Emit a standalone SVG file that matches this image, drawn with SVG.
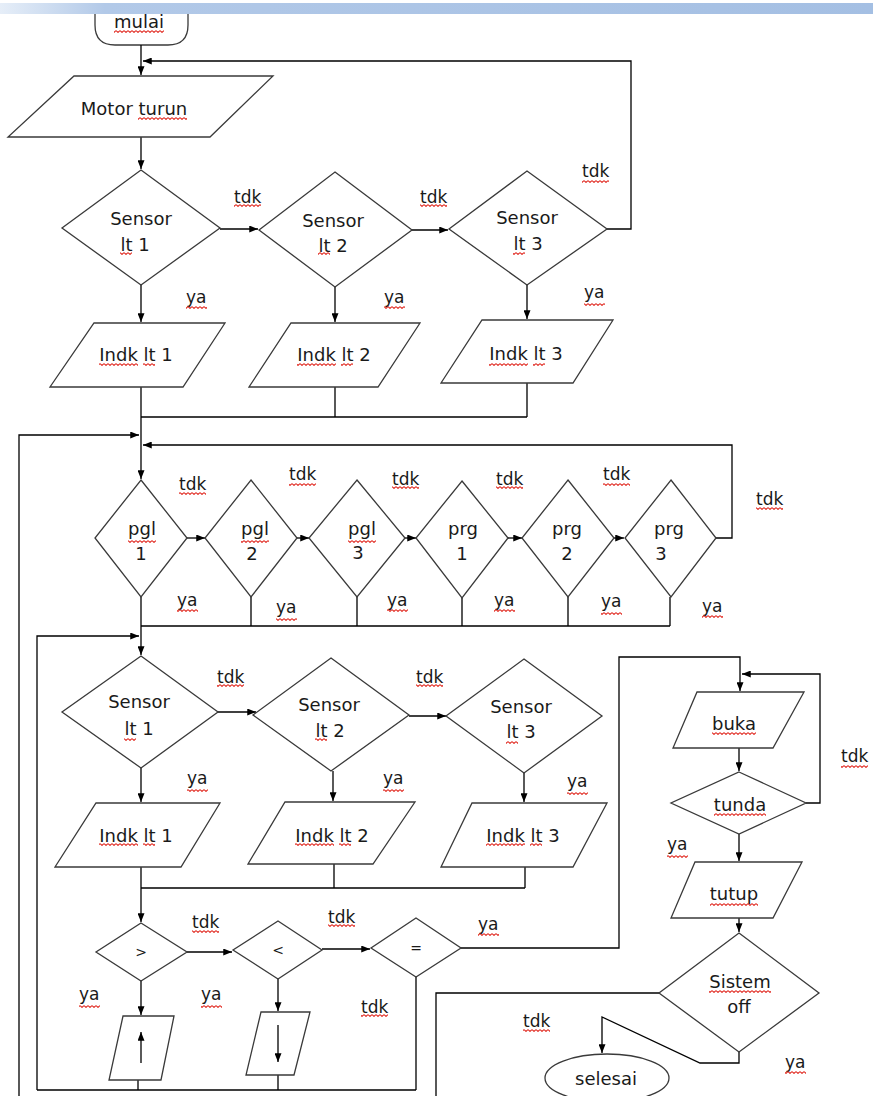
<svg xmlns="http://www.w3.org/2000/svg" width="873" height="1096" viewBox="0 0 873 1096">
<style>
.c{stroke:#000;stroke-width:1.3;fill:none}
.a{marker-end:url(#ah)}
.s{fill:#fff;stroke:#3a3a3a;stroke-width:1.3}
.t{font-family:"DejaVu Sans",sans-serif;font-size:18px;fill:#1a1a1a;text-anchor:middle}
.l{font-family:"DejaVu Sans",sans-serif;font-size:17px;fill:#1a1a1a}
.m{font-family:"DejaVu Sans",sans-serif;font-size:14px;fill:#1a1a1a;text-anchor:middle}
.q{fill:url(#sq)}
</style>
<defs>
<marker id="ah" viewBox="0 0 10 8" refX="10" refY="4" markerWidth="9" markerHeight="7" markerUnits="userSpaceOnUse" orient="auto"><path d="M0,0 L10,4 L0,8 z" fill="#000"/></marker>
<pattern id="sq" width="4" height="3" patternUnits="userSpaceOnUse"><path d="M0,0.6 L2,2.4 L4,0.6" stroke="#e0241b" stroke-width="1.1" fill="none"/></pattern>
<linearGradient id="band" x1="0" y1="0" x2="1" y2="0"><stop offset="0" stop-color="#e6eef8"/><stop offset="0.12" stop-color="#b2c9e8"/><stop offset="1" stop-color="#a4bfe3"/></linearGradient>
</defs>
<rect width="873" height="1096" fill="#fff"/>

<g id="mulai"><path class="s" d="M95,14 V25 Q95,45 115,45 H168 Q188,45 188,25 V14"/><text class="t" x="139" y="28">mulai</text></g>
<rect x="0" y="3" width="873" height="11" fill="url(#band)"/>

<g id="connectors">
<path class="c a" d="M141,45 V75"/>
<path class="c a" d="M607,229 H631 V61 H143"/>
<path class="c a" d="M141,137 V169"/>
<path class="c a" d="M220,229 H258"/>
<path class="c a" d="M412,230 H448"/>
<path class="c a" d="M141,285 V322"/>
<path class="c a" d="M335,287 V322"/>
<path class="c a" d="M527,285 V319"/>
<path class="c" d="M141,387 V417 M335,387 V417 M527,383 V417 M141,417 H527"/>
<path class="c a" d="M141,417 V479"/>
<path class="c a" d="M19,1096 V435 H139"/>
<path class="c a" d="M716,538 H732 V445 H143"/>
<path class="c a" d="M187,538 H205"/>
<path class="c a" d="M297,538 H309"/>
<path class="c a" d="M405,538 H416"/>
<path class="c a" d="M508,538 H522"/>
<path class="c a" d="M614,538 H624"/>
<path class="c" d="M251,597 V626 M357,597 V626 M462,597 V626 M568,597 V626 M670,597 V626 M141,626 H670"/>
<path class="c a" d="M141,597 V655"/>
<path class="c a" d="M37,1090 V636 H139"/>
<path class="c a" d="M218,712 H256"/>
<path class="c a" d="M409,716 H446"/>
<path class="c a" d="M141,768 V802"/>
<path class="c a" d="M333,771 V801"/>
<path class="c a" d="M524,773 V802"/>
<path class="c" d="M141,867 V888 M334,864 V888 M525,867 V888 M141,888 H525"/>
<path class="c a" d="M141,888 V922"/>
<path class="c a" d="M187,952 H232"/>
<path class="c a" d="M322,949 H370"/>
<path class="c a" d="M461,948 H619 V657 H740 V691"/>
<path class="c a" d="M141,981 V1015"/>
<path class="c a" d="M278,979 V1011"/>
<path class="c" d="M138,1080 V1090 M278,1075 V1090 M416,977 V1090 M37,1090 H416"/>
<path class="c a" d="M806,803 H820 V674 H742"/>
<path class="c a" d="M739,748 V771"/>
<path class="c a" d="M739,834 V861"/>
<path class="c a" d="M739,918 V932"/>
<path class="c" d="M659,993 H436 V1096"/>
<path class="c a" d="M739,1052 V1063 H700 L602,1017 V1053"/>
</g>

<g id="motor_turun"><polygon class="s" points="74,76 273,76 210,137 8,137"/><text class="t" x="134" y="115">Motor turun</text></g>

<g id="sensor1_a"><polygon class="s" points="141,170 220,228 141,285 62,228"/><text class="t" x="141" y="225">Sensor</text><text class="t" x="135" y="251">lt 1</text></g>
<g id="sensor2_a"><polygon class="s" points="335,172 412,230 335,287 259,230"/><text class="t" x="333" y="227">Sensor</text><text class="t" x="333" y="252">lt 2</text></g>
<g id="sensor3_a"><polygon class="s" points="527,171 607,229 527,285 449,229"/><text class="t" x="527" y="224">Sensor</text><text class="t" x="528" y="250">lt 3</text></g>

<g id="indk1_a"><polygon class="s" points="94,323 225,323 183,387 50,387"/><text class="t" x="136" y="361">Indk lt 1</text></g>
<g id="indk2_a"><polygon class="s" points="291,323 420,323 378,387 249,387"/><text class="t" x="334" y="361">Indk lt 2</text></g>
<g id="indk3_a"><polygon class="s" points="482,320 613,320 573,383 441,383"/><text class="t" x="526" y="360">Indk lt 3</text></g>

<g id="pgl1"><polygon class="s" points="141,480 187,538 141,597 95,538"/><text class="t" x="142" y="535">pgl</text><text class="t" x="141" y="560">1</text></g>
<g id="pgl2"><polygon class="s" points="251,480 297,538 251,597 205,538"/><text class="t" x="255" y="535">pgl</text><text class="t" x="252" y="560">2</text></g>
<g id="pgl3"><polygon class="s" points="357,480 405,538 357,597 309,538"/><text class="t" x="362" y="535">pgl</text><text class="t" x="358" y="559">3</text></g>
<g id="prg1"><polygon class="s" points="462,481 508,538 462,598 416,538"/><text class="t" x="463" y="535">prg</text><text class="t" x="462" y="560">1</text></g>
<g id="prg2"><polygon class="s" points="568,480 614,538 568,597 522,538"/><text class="t" x="567" y="535">prg</text><text class="t" x="567" y="560">2</text></g>
<g id="prg3"><polygon class="s" points="671,480 716,538 671,597 625,538"/><text class="t" x="669" y="535">prg</text><text class="t" x="661" y="560">3</text></g>

<g id="sensor1_b"><polygon class="s" points="141,656 218,712 141,768 62,712"/><text class="t" x="139" y="708">Sensor</text><text class="t" x="139" y="735">lt 1</text></g>
<g id="sensor2_b"><polygon class="s" points="331,658 409,715 331,771 253,715"/><text class="t" x="329" y="711">Sensor</text><text class="t" x="330" y="737">lt 2</text></g>
<g id="sensor3_b"><polygon class="s" points="524,659 602,716 524,773 446,716"/><text class="t" x="521" y="713">Sensor</text><text class="t" x="521" y="738">lt 3</text></g>

<g id="indk1_b"><polygon class="s" points="96,803 220,803 181,867 55,867"/><text class="t" x="136" y="842">Indk lt 1</text></g>
<g id="indk2_b"><polygon class="s" points="285,802 415,802 373,864 248,864"/><text class="t" x="332" y="842">Indk lt 2</text></g>
<g id="indk3_b"><polygon class="s" points="472,803 607,803 573,867 441,867"/><text class="t" x="523" y="842">Indk lt 3</text></g>

<g id="cmp_gt"><polygon class="s" points="141,923 187,952 141,981 96,952"/><text class="m" x="141" y="957">&gt;</text></g>
<g id="cmp_lt"><polygon class="s" points="278,921 322,950 278,979 233,950"/><text class="m" x="278" y="955">&lt;</text></g>
<g id="cmp_eq"><polygon class="s" points="416,918 461,948 416,977 371,948"/><text class="m" x="416" y="953">=</text></g>

<g id="naik"><polygon class="s" points="123,1016 174,1016 161,1080 109,1080"/><path class="c a" d="M141,1063 V1032"/></g>
<g id="turun"><polygon class="s" points="261,1012 310,1012 294,1075 246,1075"/><path class="c a" d="M278,1025 V1062"/></g>

<g id="buka"><polygon class="s" points="697,692 804,692 773,748 673,748"/><text class="t" x="734" y="730">buka</text></g>
<g id="tunda"><polygon class="s" points="739,772 806,803 739,834 671,803"/><text class="t" x="740" y="811">tunda</text></g>
<g id="tutup"><polygon class="s" points="695,862 802,862 773,918 671,918"/><text class="t" x="734" y="900">tutup</text></g>
<g id="sistem_off"><polygon class="s" points="739,933 819,993 739,1052 659,993"/><text class="t" x="740" y="988">Sistem</text><text class="t" x="739" y="1013">off</text></g>
<g id="selesai"><ellipse class="s" cx="607" cy="1078" rx="62" ry="24"/><text class="t" x="606" y="1085">selesai</text></g>

<g id="labels" class="l">
<text x="234" y="203">tdk</text><text x="420" y="203">tdk</text><text x="582" y="177">tdk</text>
<text x="186" y="303">ya</text><text x="384" y="303">ya</text><text x="584" y="298">ya</text>
<text x="179" y="490">tdk</text><text x="289" y="480">tdk</text><text x="392" y="485">tdk</text><text x="496" y="485">tdk</text><text x="603" y="480">tdk</text><text x="756" y="505">tdk</text>
<text x="177" y="606">ya</text><text x="276" y="613">ya</text><text x="387" y="606">ya</text><text x="494" y="606">ya</text><text x="601" y="607">ya</text><text x="702" y="612">ya</text>
<text x="217" y="683">tdk</text><text x="416" y="683">tdk</text>
<text x="187" y="784">ya</text><text x="383" y="784">ya</text><text x="567" y="787">ya</text>
<text x="192" y="928">tdk</text><text x="328" y="923">tdk</text><text x="478" y="930">ya</text>
<text x="79" y="1000">ya</text><text x="201" y="1000">ya</text><text x="361" y="1013">tdk</text>
<text x="841" y="762">tdk</text><text x="667" y="850">ya</text><text x="523" y="1027">tdk</text><text x="785" y="1068">ya</text>
</g>

<g id="spellcheck">
<rect class="q" x="114" y="30" width="50" height="3"/>
<rect class="q" x="138" y="117" width="49" height="3"/>
<rect class="q" x="120" y="252" width="12" height="3"/><rect class="q" x="318" y="252" width="12" height="3"/><rect class="q" x="513" y="252" width="12" height="3"/>
<rect class="q" x="99" y="363" width="39" height="3"/><rect class="q" x="143" y="363" width="12" height="3"/>
<rect class="q" x="297" y="363" width="39" height="3"/><rect class="q" x="341" y="363" width="12" height="3"/>
<rect class="q" x="489" y="363" width="39" height="3"/><rect class="q" x="533" y="363" width="12" height="3"/>
<rect class="q" x="128" y="540" width="28" height="3"/><rect class="q" x="241" y="540" width="28" height="3"/><rect class="q" x="348" y="540" width="28" height="3"/>
<rect class="q" x="124" y="738" width="12" height="3"/><rect class="q" x="315" y="738" width="12" height="3"/><rect class="q" x="506" y="741" width="12" height="3"/>
<rect class="q" x="99" y="843" width="39" height="3"/><rect class="q" x="143" y="843" width="12" height="3"/>
<rect class="q" x="295" y="843" width="39" height="3"/><rect class="q" x="339" y="843" width="12" height="3"/>
<rect class="q" x="486" y="843" width="39" height="3"/><rect class="q" x="530" y="843" width="12" height="3"/>
<rect class="q" x="712" y="732" width="44" height="3"/>
<rect class="q" x="714" y="813" width="52" height="3"/>
<rect class="q" x="710" y="903" width="48" height="3"/>
<rect class="q" x="709" y="990" width="62" height="3"/>
<rect class="q" x="234" y="204" width="27" height="3"/><rect class="q" x="420" y="204" width="27" height="3"/><rect class="q" x="582" y="180" width="27" height="3"/>
<rect class="q" x="186" y="306" width="21" height="3"/><rect class="q" x="384" y="306" width="21" height="3"/><rect class="q" x="584" y="303" width="21" height="3"/>
<rect class="q" x="179" y="492" width="27" height="3"/><rect class="q" x="289" y="483" width="27" height="3"/><rect class="q" x="392" y="486" width="27" height="3"/><rect class="q" x="496" y="486" width="27" height="3"/><rect class="q" x="603" y="483" width="27" height="3"/><rect class="q" x="756" y="507" width="27" height="3"/>
<rect class="q" x="177" y="609" width="21" height="3"/><rect class="q" x="276" y="618" width="21" height="3"/><rect class="q" x="387" y="609" width="21" height="3"/><rect class="q" x="494" y="609" width="21" height="3"/><rect class="q" x="601" y="612" width="21" height="3"/><rect class="q" x="702" y="615" width="21" height="3"/>
<rect class="q" x="217" y="684" width="27" height="3"/><rect class="q" x="416" y="684" width="27" height="3"/>
<rect class="q" x="187" y="789" width="21" height="3"/><rect class="q" x="383" y="789" width="21" height="3"/><rect class="q" x="567" y="792" width="21" height="3"/>
<rect class="q" x="192" y="930" width="27" height="3"/><rect class="q" x="328" y="924" width="27" height="3"/><rect class="q" x="478" y="933" width="21" height="3"/>
<rect class="q" x="79" y="1005" width="21" height="3"/><rect class="q" x="201" y="1005" width="21" height="3"/><rect class="q" x="361" y="1014" width="27" height="3"/>
<rect class="q" x="841" y="765" width="27" height="3"/><rect class="q" x="667" y="855" width="21" height="3"/><rect class="q" x="523" y="1029" width="27" height="3"/><rect class="q" x="785" y="1071" width="21" height="3"/>
</g>
</svg>
